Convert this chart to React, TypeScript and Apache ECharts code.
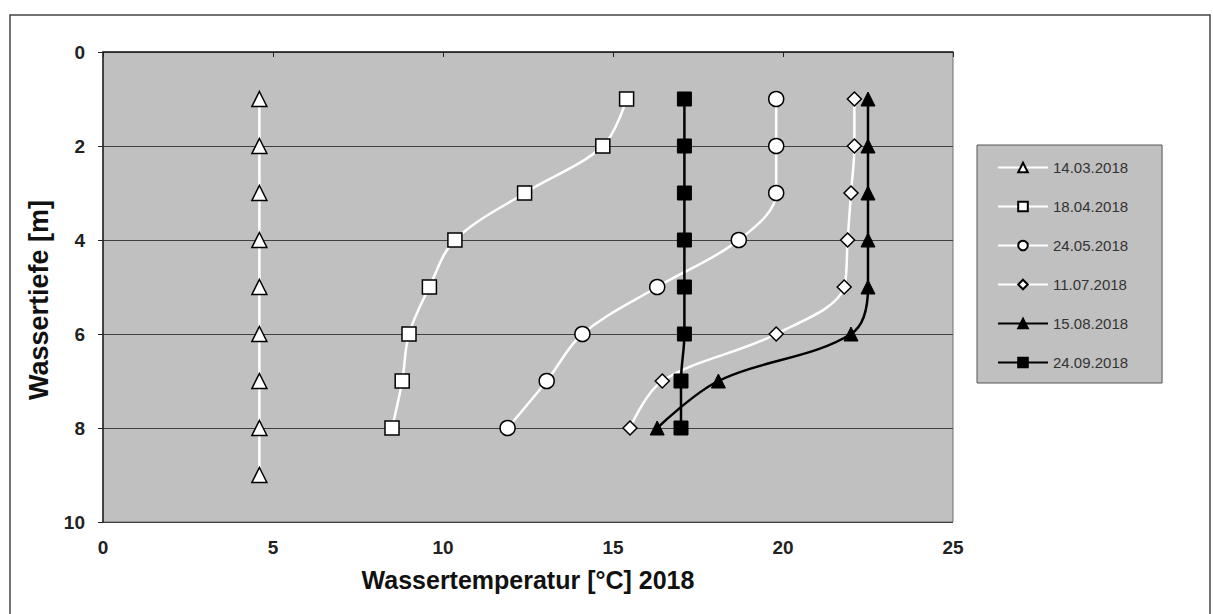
import React, { useEffect, useRef } from "react";
import * as echarts from "echarts";

const depths = [1, 2, 3, 4, 5, 6, 7, 8, 9];
const seriesNames = ["14.03.2018", "18.04.2018", "24.05.2018", "11.07.2018", "15.08.2018", "24.09.2018"];
const temp1403 = [4.6, 4.6, 4.6, 4.6, 4.6, 4.6, 4.6, 4.6, 4.6];
const temp1804 = [15.4, 14.7, 12.4, 10.35, 9.6, 9.0, 8.8, 8.5];
const temp2405 = [19.8, 19.8, 19.8, 18.7, 16.3, 14.1, 13.05, 11.9];
const temp1107 = [22.1, 22.1, 22.0, 21.9, 21.8, 19.8, 16.45, 15.5];
const temp1508 = [22.5, 22.5, 22.5, 22.5, 22.5, 22.0, 18.1, 16.3];
const temp2409 = [17.1, 17.1, 17.1, 17.1, 17.1, 17.1, 17.0, 17.0];
const xTicks = [0, 5, 10, 15, 20, 25];
const yTicks = [0, 2, 4, 6, 8, 10];

const pairs = (vals: number[]) => vals.map((v, i) => [v, depths[i]]);

export default function App() {
  const ref = useRef<HTMLDivElement>(null);
  useEffect(() => {
    document.body.style.margin = "0";
    const chart = echarts.init(ref.current!, null, { renderer: "svg" });
    const font = "'Liberation Sans', Arial, sans-serif";
    const whiteSeries = (name: string, vals: number[], symbol: string, size: number) => ({
      name,
      type: "line",
      data: pairs(vals),
      smooth: 0.35,
      symbol,
      symbolSize: size,
      lineStyle: { color: "#ffffff", width: 2.5 },
      itemStyle: { color: "#ffffff", borderColor: "#000000", borderWidth: 1.5 },
      z: 2,
    });
    const blackSeries = (name: string, vals: number[], symbol: string, size: number) => ({
      name,
      type: "line",
      data: pairs(vals),
      smooth: 0.35,
      symbol,
      symbolSize: size,
      lineStyle: { color: "#000000", width: 2.5 },
      itemStyle: { color: "#000000", borderColor: "#000000", borderWidth: 1 },
      z: 3,
    });
    chart.setOption({
      animation: false,
      textStyle: { fontFamily: font },
      grid: {
        left: 103,
        top: 52,
        right: 260,
        bottom: 92,
        show: true,
        backgroundColor: "#c0c0c0",
        borderColor: "#707070",
        borderWidth: 1,
      },
      graphic: [
        {
          type: "rect",
          shape: { x: 10, y: 15, width: 1200, height: 610 },
          style: { fill: "none", stroke: "#444", lineWidth: 1.5 },
          silent: true,
          z: -10,
        },
      ],
      legend: {
        orient: "vertical",
        left: 977,
        top: 145,
        backgroundColor: "#c0c0c0",
        borderColor: "#555",
        borderWidth: 1,
        padding: [15, 34, 13, 20],
        itemWidth: 50,
        itemHeight: 12,
        itemGap: 24,
        data: seriesNames,
        textStyle: { fontSize: 15, color: "#333", fontFamily: font },
      },
      xAxis: {
        type: "value",
        min: 0,
        max: 25,
        interval: 5,
        name: "Wassertemperatur [°C] 2018",
        nameLocation: "middle",
        nameGap: 45,
        nameTextStyle: { fontSize: 25, fontWeight: "bold", color: "#111", fontFamily: font },
        axisLine: { show: true, lineStyle: { color: "#222", width: 1.5 } },
        axisTick: { show: true, length: 5, lineStyle: { color: "#222" } },
        axisLabel: { fontSize: 19, fontWeight: "bold", color: "#222", margin: 16, formatter: (v: number) => (xTicks.includes(v) ? String(v) : "") },
        splitLine: { show: false },
      },
      yAxis: {
        type: "value",
        inverse: true,
        min: 0,
        max: 10,
        interval: 2,
        name: "Wassertiefe [m]",
        nameLocation: "middle",
        nameGap: 50,
        nameTextStyle: { fontSize: 27, fontWeight: "bold", color: "#111", fontFamily: font, padding: [0, 26, 0, 0] },
        axisLine: { show: true, lineStyle: { color: "#222", width: 1.5 } },
        axisTick: { show: true, length: 5, lineStyle: { color: "#222" } },
        axisLabel: { fontSize: 19, fontWeight: "bold", color: "#222", margin: 18, formatter: (v: number) => (yTicks.includes(v) ? String(v) : "") },
        splitLine: { show: true, lineStyle: { color: "#404040", width: 1.2 } },
      },
      series: [
        whiteSeries(seriesNames[0], temp1403, "triangle", 15),
        whiteSeries(seriesNames[1], temp1804, "rect", 14),
        whiteSeries(seriesNames[2], temp2405, "circle", 15),
        whiteSeries(seriesNames[3], temp1107, "diamond", 14),
        blackSeries(seriesNames[4], temp1508, "triangle", 14),
        blackSeries(seriesNames[5], temp2409, "rect", 14),
      ],
    });
    return () => chart.dispose();
  }, []);
  return <div ref={ref} style={{ width: 1213, height: 614 }} />;
}
